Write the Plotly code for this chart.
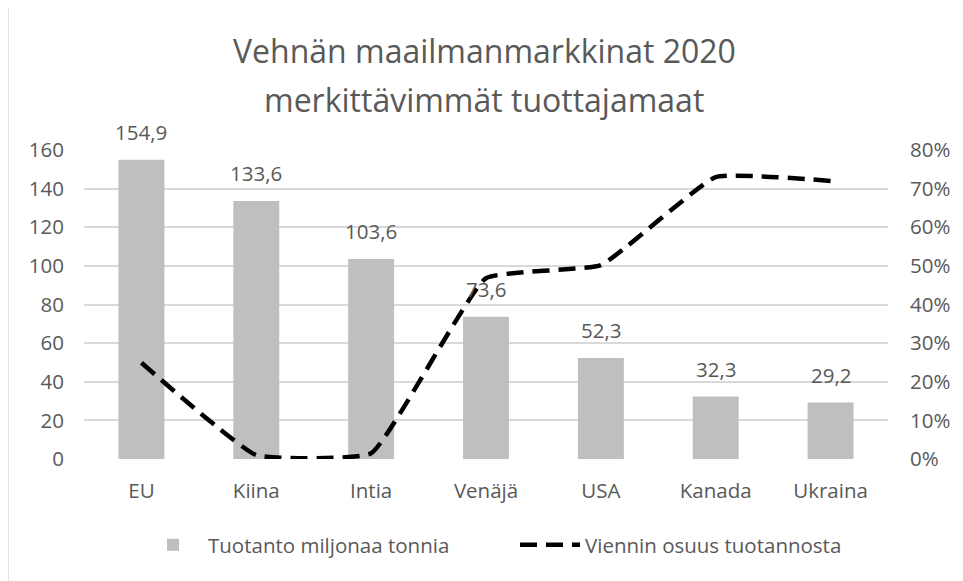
import plotly.graph_objects as go

categories = ["EU", "Kiina", "Intia", "Venäjä", "USA", "Kanada", "Ukraina"]
production = [154.9, 133.6, 103.6, 73.6, 52.3, 32.3, 29.2]
export_share = [0.249, 0.010, 0.015, 0.468, 0.502, 0.730, 0.720]
left_ticks = [0, 20, 40, 60, 80, 100, 120, 140, 160]
right_ticks = [0, 0.1, 0.2, 0.3, 0.4, 0.5, 0.6, 0.7, 0.8]
title_lines = ["Vehnän maailmanmarkkinat 2020", "merkittävimmät tuottajamaat"]

FONT = "Open Sans"
GRAY = "#595959"
FS = 20.5

# page body has an 8px offset; plot area targets x 84-888, y 150-459 on screen
OFF = 8
L, T, PW, PH = 84 - OFF, 150 - OFF, 804, 309
W, H = 963, 581

fig = go.Figure()
fig.add_trace(go.Bar(
    x=categories, y=production, name="Tuotanto miljonaa tonnia",
    marker=dict(color="#BFBFBF", line=dict(width=0)), width=0.4,
))
fig.add_trace(go.Scatter(
    x=categories, y=export_share, name="Viennin osuus tuotannosta",
    yaxis="y2", mode="lines",
    line=dict(color="black", width=4.5, dash="17px,9px", shape="spline", smoothing=0.35),
))

annotations = []
for c, v in zip(categories, production):
    annotations.append(dict(
        x=c, y=v, xref="x", yref="y", text=f"{v:.1f}".replace(".", ","),
        showarrow=False, yanchor="bottom", yshift=12,
        font=dict(family=FONT, size=FS, color=GRAY),
    ))

def py(screen_y):
    return (T + PH - (screen_y - OFF)) / PH

def px(screen_x):
    return ((screen_x - OFF) - L) / PW

for line, sy in zip(title_lines, [51, 100]):
    annotations.append(dict(
        x=px(484), y=py(sy), xref="paper", yref="paper", text=line,
        showarrow=False, xanchor="center", yanchor="middle",
        font=dict(family=FONT, size=32, color=GRAY),
    ))

fig.update_layout(
    width=W, height=H,
    margin=dict(l=L, r=W - L - PW, t=T, b=H - T - PH),
    paper_bgcolor="white", plot_bgcolor="white",
    separators=", ",
    font=dict(family=FONT, size=FS, color=GRAY),
    xaxis=dict(
        categoryorder="array", categoryarray=categories,
        showgrid=False, showline=False, zeroline=False, ticks="",
        tickfont=dict(family=FONT, size=FS, color=GRAY),
        ticklabelstandoff=17,
    ),
    yaxis=dict(
        range=[0, 160], tickvals=left_ticks, showgrid=True,
        gridcolor="#D9D9D9", gridwidth=1.5, zeroline=False, showline=False,
        ticks="", ticklabelstandoff=19,
        tickfont=dict(family=FONT, size=FS, color=GRAY),
    ),
    yaxis2=dict(
        range=[0, 0.8], tickvals=right_ticks, tickformat=".0%",
        overlaying="y", side="right", showgrid=False, zeroline=False,
        showline=False, ticks="", ticklabelstandoff=21,
        tickfont=dict(family=FONT, size=FS, color=GRAY),
    ),
    legend=dict(
        orientation="h", x=px(515), xanchor="center", y=py(545), yanchor="middle",
        font=dict(family=FONT, size=FS, color=GRAY),
        entrywidth=302, itemwidth=60,
    ),
    annotations=annotations,
    shapes=[
        dict(type="line", xref="paper", yref="paper",
             x0=px(8), x1=1.2, y0=py(5), y1=py(5),
             line=dict(color="#D9D9D9", width=1.5)),
        dict(type="line", xref="paper", yref="paper",
             x0=px(8), x1=px(8), y0=py(5), y1=-0.6,
             line=dict(color="#D9D9D9", width=1.5)),
    ],
)

fig.write_html("out.html")
